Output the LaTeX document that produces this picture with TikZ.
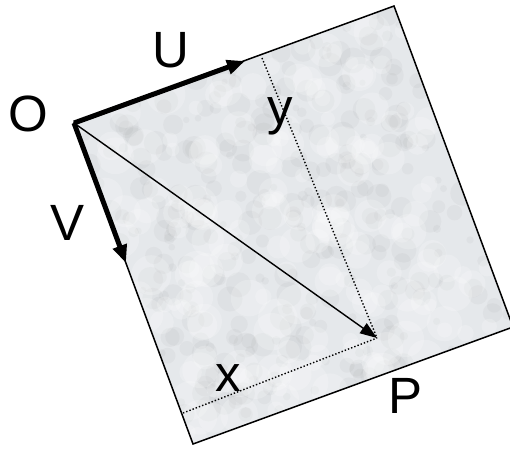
\documentclass[tikz,border=0pt]{standalone}
\usepackage{fontspec}
\setmainfont{Liberation Sans}
\usetikzlibrary{arrows.meta}
\begin{document}
\begin{tikzpicture}[x=1pt,y=-1pt,
  lbl/.style={font=\fontsize{51}{51}\selectfont, anchor=base, inner sep=0pt},
  edgeline/.style={line width=1.5pt},
  vec/.style={line width=5pt, -{Triangle[length=18pt,width=14pt]}},
  diag/.style={line width=1.4pt, -{Triangle[length=17pt,width=12pt]}},
  dots/.style={line width=1.4pt, dotted}]
\useasboundingbox (0,0) rectangle (510,448);
\coordinate (O) at (74,123);
\coordinate (TR) at (394,6);
\coordinate (BR) at (513,327);
\coordinate (BL) at (193,444);
\coordinate (Utip) at (245,61);
\coordinate (Vtip) at (126,263);
\coordinate (P) at (377,338);
\coordinate (Ytop) at (262,58);
\coordinate (Xleft) at (183,413);
% marble
\fill[fill={rgb,255:red,229;green,232;blue,235}] (O) -- (TR) -- (BR) -- (BL) -- cycle;
\begin{scope}
\clip (O) -- (TR) -- (BR) -- (BL) -- cycle;
\pgfmathsetseed{7}
\foreach \i in {1,...,320}{
  \pgfmathsetmacro{\a}{rnd}
  \pgfmathsetmacro{\b}{rnd}
  \pgfmathsetmacro{\r}{3+10*rnd}
  \pgfmathsetmacro{\px}{74+320*\a+119*\b}
  \pgfmathsetmacro{\py}{123-117*\a+321*\b}
  \fill[gray!80!black, opacity=0.05] (\px,\py) circle[radius=\r];
}
\foreach \i in {1,...,180}{
  \pgfmathsetmacro{\a}{rnd}
  \pgfmathsetmacro{\b}{rnd}
  \pgfmathsetmacro{\r}{6+14*rnd}
  \pgfmathsetmacro{\px}{74+320*\a+119*\b}
  \pgfmathsetmacro{\py}{123-117*\a+321*\b}
  \fill[white, opacity=0.2] (\px,\py) circle[radius=\r];
}
\end{scope}
\draw[edgeline, line join=miter] (O) -- (TR) -- (BR) -- (BL) -- cycle;
\draw[dots] (Ytop) -- (P);
\draw[dots] (Xleft) -- (P);
\draw[diag] (O) -- (P);
\draw[vec] (O) -- (Utip);
\draw[vec] (O) -- (Vtip);
\node[lbl] (lO) at (28,131) {O};
\node[lbl] (lU) at (171,67) {U};
\node[lbl] (lV) at (68,240) {V};
\node[lbl] (ly) at (280,124) {y};
\node[lbl] (lx) at (228,391) {x};
\node[lbl] (lP) at (406,413) {P};
\end{tikzpicture}
\end{document}
